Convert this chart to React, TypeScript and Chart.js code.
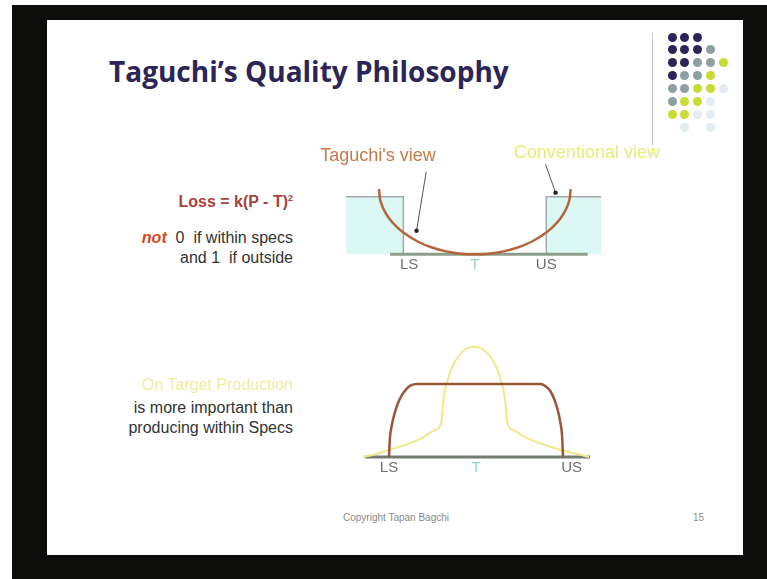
import React, { useEffect, useRef } from "react";
import { Chart, registerables } from "chart.js";

Chart.register(...registerables);

// ---------- Loss-function panel (target T = 0, spec limits at -1 / +1) ----------
const lossTickLabels = ["LS", "T", "US"];
const lossTickValues = [-0.92, 0, 1];

// Taguchi's view: loss keeps growing as P moves away from T
const taguchiX = [-1.34, -1.33, -1.3, -1.25, -1.2, -1.1, -1.0, -0.8, -0.6, -0.4, -0.2, 0, 0.2, 0.4, 0.6, 0.8, 1.0, 1.1, 1.2, 1.25, 1.3, 1.33, 1.34];
const taguchiLoss = [1.13, 0.99, 0.855, 0.723, 0.627, 0.485, 0.378, 0.223, 0.119, 0.052, 0.012, 0, 0.012, 0.052, 0.119, 0.223, 0.378, 0.485, 0.627, 0.723, 0.855, 0.99, 1.13];

// Conventional (goal-post) view: loss 0 inside the specs, 1 outside
const conventionalLeftX = [-1.8, -1, -1];
const conventionalLeftLoss = [1, 1, 0];
const conventionalRightX = [1, 1, 1.77];
const conventionalRightLoss = [0, 1, 1];

const lossAxisX = [-1.185, 1.58];
const lossAxisY = [0, 0];

const taguchiPointerX = [-0.68, -0.815];
const taguchiPointerY = [1.43, 0.41];
const conventionalPointerX = [0.99, 1.13];
const conventionalPointerY = [1.56, 1.07];

// ---------- Output-distribution panel ----------
const distTickLabels = ["LS", "T", "US"];
const distTickValues = [-1, 0, 1.1];

// Output spread evenly across the whole tolerance band
const withinSpecX = [-1, -0.99, -0.97, -0.94, -0.9, -0.85, -0.8, -0.75, -0.68, 0.74, 0.8, 0.85, 0.9, 0.94, 0.97, 0.99, 1.0];
const withinSpecY = [0, 0.25, 0.42, 0.58, 0.73, 0.85, 0.93, 0.98, 1, 1, 0.97, 0.91, 0.79, 0.64, 0.47, 0.28, 0];

// Output concentrated on the target
const onTargetX = [-1.3, -1.18, -0.99, -0.8, -0.61, -0.47, -0.4, -0.38, -0.36, -0.32, -0.27, -0.2, -0.11, -0.02, 0.07, 0.16, 0.23, 0.28, 0.32, 0.34, 0.36, 0.43, 0.57, 0.78, 0.97, 1.2, 1.3];
const onTargetY = [0, 0.03, 0.1, 0.17, 0.27, 0.37, 0.47, 0.72, 0.89, 1.08, 1.24, 1.38, 1.48, 1.51, 1.48, 1.38, 1.24, 1.08, 0.89, 0.72, 0.47, 0.37, 0.27, 0.17, 0.1, 0.03, 0];

const distAxisX = [-1.276, 1.31];
const distAxisY = [0, 0];

const pts = (xs: number[], ys: number[]) => xs.map((x, i) => ({ x, y: ys[i] }));

type Callout = { text: string; x: number; y: number; color: string };

// Draws the LS / T / US marks under the base line plus any callout texts
const makeLabelPlugin = (
  values: number[],
  labels: string[],
  colors: string[],
  offset: number,
  font: string,
  callouts: Callout[],
  calloutFont: string
) => ({
  id: "specLabels",
  afterDatasetsDraw(chart: any) {
    const { ctx, scales } = chart;
    const xs = scales.x;
    const ys = scales.y;
    ctx.save();
    ctx.textAlign = "center";
    ctx.textBaseline = "middle";
    ctx.font = font;
    values.forEach((v, i) => {
      ctx.fillStyle = colors[i];
      ctx.fillText(labels[i], xs.getPixelForValue(v), ys.getPixelForValue(0) + offset);
    });
    ctx.font = calloutFont;
    callouts.forEach((c) => {
      ctx.fillStyle = c.color;
      ctx.fillText(c.text, xs.getPixelForValue(c.x), ys.getPixelForValue(c.y));
    });
    ctx.restore();
  },
});

const baseOptions = (xmin: number, xmax: number, ymin: number, ymax: number) => ({
  responsive: false,
  animation: false as const,
  devicePixelRatio: 1,
  layout: { padding: 0 },
  plugins: { legend: { display: false }, tooltip: { enabled: false } },
  elements: { point: { radius: 0 } },
  scales: {
    x: { type: "linear" as const, min: xmin, max: xmax, display: false },
    y: { type: "linear" as const, min: ymin, max: ymax, display: false },
  },
});

const FONT = '"Liberation Sans", Arial, sans-serif';

const NAVY = "#2b2558";
const dotColors: Record<string, string> = {
  N: NAVY,
  G: "#8d9fa1",
  Y: "#c9dc33",
  f: "#e3edf1",
};
const dotRows = ["NNN", "NNNG", "NNGGY", "NGGY", "GGYYf", "GYYf", "YYff", ".f.f"];

export default function App() {
  const topRef = useRef<HTMLCanvasElement>(null);
  const bottomRef = useRef<HTMLCanvasElement>(null);

  useEffect(() => {
    const lossChart = new Chart(topRef.current as HTMLCanvasElement, {
      type: "line",
      data: {
        datasets: [
          {
            data: pts(taguchiX, taguchiLoss),
            borderColor: "#b5653c",
            borderWidth: 2.5,
            cubicInterpolationMode: "monotone",
            fill: false,
          },
          {
            data: pts(taguchiPointerX, taguchiPointerY),
            borderColor: "#555",
            borderWidth: 1,
            pointRadius: [0, 2.2],
            pointBackgroundColor: "#222",
            pointBorderWidth: 0,
            fill: false,
          },
          {
            data: pts(conventionalPointerX, conventionalPointerY),
            borderColor: "#555",
            borderWidth: 1,
            pointRadius: [0, 2.2],
            pointBackgroundColor: "#222",
            pointBorderWidth: 0,
            fill: false,
          },
          {
            data: pts(lossAxisX, lossAxisY),
            borderColor: "#8c9c8a",
            borderWidth: 3,
            fill: false,
          },
          {
            data: pts(conventionalLeftX, conventionalLeftLoss),
            borderColor: "#9faaa9",
            borderWidth: 1.5,
            backgroundColor: "#dcf8f4",
            tension: 0,
            fill: "origin",
          },
          {
            data: pts(conventionalRightX, conventionalRightLoss),
            borderColor: "#9faaa9",
            borderWidth: 1.5,
            backgroundColor: "#dcf8f4",
            tension: 0,
            fill: "origin",
          },
        ],
      },
      options: baseOptions(-2.39, 2.815, -0.41, 2.0) as any,
      plugins: [
        makeLabelPlugin(
          lossTickValues,
          lossTickLabels,
          ["#6f6f6f", "#8fd6c8", "#6f6f6f"],
          11,
          `15px ${FONT}`,
          [
            { text: "Taguchi's view", x: -1.356, y: 1.705, color: "#c57a4a" },
            { text: "Conventional view", x: 1.568, y: 1.754, color: "#e4ee78" },
          ],
          `18px ${FONT}`
        ),
      ],
    });

    const distChart = new Chart(bottomRef.current as HTMLCanvasElement, {
      type: "line",
      data: {
        datasets: [
          {
            data: pts(withinSpecX, withinSpecY),
            borderColor: "#9b563a",
            borderWidth: 2.5,
            cubicInterpolationMode: "monotone",
            fill: false,
          },
          {
            data: pts(onTargetX, onTargetY),
            borderColor: "#efe98c",
            borderWidth: 2,
            cubicInterpolationMode: "monotone",
            fill: false,
          },
          {
            data: pts(distAxisX, distAxisY),
            borderColor: "#737b72",
            borderWidth: 3,
            fill: false,
          },
        ],
      },
      options: baseOptions(-1.563, 1.655, -0.315, 1.671) as any,
      plugins: [
        makeLabelPlugin(
          distTickValues,
          distTickLabels,
          ["#6f6f6f", "#8fd6c8", "#6f6f6f"],
          11,
          `15px ${FONT}`,
          [],
          `18px ${FONT}`
        ),
      ],
    });

    return () => {
      lossChart.destroy();
      distChart.destroy();
    };
  }, []);

  const textLine = (
    top: number,
    content: React.ReactNode,
    extra: React.CSSProperties = {}
  ) => (
    <div
      style={{
        position: "absolute",
        right: 767 - 293,
        top,
        whiteSpace: "pre",
        fontSize: 16,
        lineHeight: "20px",
        color: "#333",
        textAlign: "right",
        ...extra,
      }}
    >
      {content}
    </div>
  );

  return (
    <div
      style={{
        position: "absolute",
        left: 0,
        top: 0,
        width: 767,
        height: 579,
        background: "#fff",
        overflow: "hidden",
        fontFamily: FONT,
      }}
    >
      <div style={{ position: "absolute", left: 12, top: 5, width: 755, height: 574, background: "#0c0c0a" }} />
      <div style={{ position: "absolute", left: 47, top: 20, width: 696, height: 535, background: "#fff" }} />

      {/* title */}
      <div
        style={{
          position: "absolute",
          left: 109,
          top: 57,
          fontFamily: '"Open Sans", "Noto Sans", sans-serif',
          fontWeight: 700,
          fontSize: 28,
          lineHeight: "28px",
          color: NAVY,
          whiteSpace: "nowrap",
        }}
      >
        Taguchi’s Quality Philosophy
      </div>

      {/* decorative dot grid and rule */}
      <div style={{ position: "absolute", left: 652, top: 33, width: 1, height: 112, background: "#c9c9c9" }} />
      {dotRows.map((row, r) =>
        row.split("").map((ch, c) =>
          ch === "." ? null : (
            <div
              key={`${r}-${c}`}
              style={{
                position: "absolute",
                left: 672 + c * 12.8 - 4.5,
                top: 37 + r * 12.9 - 4.5,
                width: 9,
                height: 9,
                borderRadius: "50%",
                background: dotColors[ch],
              }}
            />
          )
        )
      )}

      {/* left-hand notes */}
      {textLine(
        192,
        <span style={{ fontWeight: 700, color: "#a8423c" }}>
          Loss = k(P - T)<sup style={{ fontSize: 9, verticalAlign: "6px", lineHeight: 0 }}>2</sup>
        </span>
      )}
      {textLine(
        228,
        <>
          <span style={{ fontWeight: 700, fontStyle: "italic", color: "#cf4a1e" }}>not</span>
          {"  0  if within specs"}
        </>
      )}
      {textLine(248, "and 1  if outside")}

      {textLine(375, "On Target Production", { color: "#eeeda0" })}
      {textLine(398, "is more important than")}
      {textLine(418, "producing within Specs")}

      <canvas
        ref={topRef}
        width={380}
        height={147}
        style={{ position: "absolute", left: 300, top: 135, width: 380, height: 147 }}
      />
      <canvas
        ref={bottomRef}
        width={280}
        height={145}
        style={{ position: "absolute", left: 340, top: 335, width: 280, height: 145 }}
      />

      {/* footer */}
      <div style={{ position: "absolute", left: 343, top: 512, fontSize: 10, lineHeight: "12px", color: "#8a8a8a" }}>
        Copyright Tapan Bagchi
      </div>
      <div style={{ position: "absolute", left: 693, top: 512, fontSize: 10, lineHeight: "12px", color: "#8a8a8a" }}>
        15
      </div>
    </div>
  );
}
